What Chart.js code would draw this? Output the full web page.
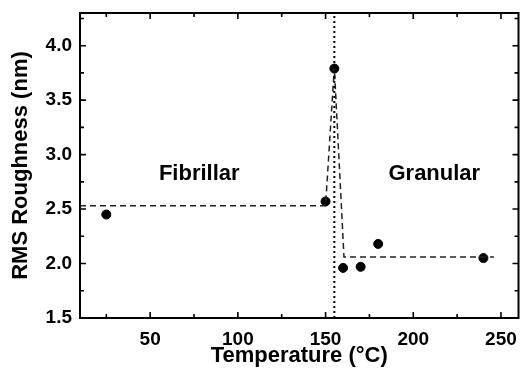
<!DOCTYPE html>
<html>
<head>
    <title>RMS Roughness vs Temperature</title>
    <style>
        body { margin: 0; background: #fff; }
        .chart-container { width: 524px; height: 373px; }
    </style>
    <script src="https://cdn.jsdelivr.net/npm/chart.js@4.4.1/dist/chart.umd.min.js"></script>
</head>
<body>
    <div class="chart-container">
        <canvas id="roughChart"></canvas>
    </div>
    <script>
        // measured points
        const tempC = [25, 150, 155, 160, 170, 180, 240];
        const roughness = [2.45, 2.57, 3.79, 1.96, 1.97, 2.18, 2.05];

        // dashed guide line through the two regimes
        const guideT = [10, 150, 155, 160.5, 246];
        const guideR = [2.53, 2.53, 3.8, 2.06, 2.06];

        // dotted transition line
        const transitionT = 155;

        // axis ranges and ticks
        const xRange = [10, 260];
        const yRange = [1.5, 4.3];
        const xMajorTicks = [50, 100, 150, 200, 250];
        const xMinorTicks = [25, 75, 125, 175, 225];
        const yMajorTicks = [1.5, 2.0, 2.5, 3.0, 3.5, 4.0];
        const yMinorTicks = [1.75, 2.25, 2.75, 3.25, 3.75, 4.25];

        // region labels
        const regionNames = ['Fibrillar', 'Granular'];
        const regionT = [78, 212];
        const regionR = [2.82, 2.82];

        const fontFamily = '"Liberation Sans", Arial, sans-serif';

        const toXY = (xs, ys) => xs.map((x, i) => ({ x: x, y: ys[i] }));

        // no automatic label padding, layout.padding decides the plot box
        const noAutoPad = s => {
            s.paddingLeft = 0; s.paddingRight = 0;
            s.paddingTop = 0; s.paddingBottom = 0;
        };

        // frame, inward ticks on all sides, region labels
        const framePlugin = {
            id: 'frame',
            afterDraw(chart) {
                const ctx = chart.ctx;
                const a = chart.chartArea;
                const xs = chart.scales.x;
                const ys = chart.scales.y;
                ctx.save();
                ctx.strokeStyle = '#000';
                ctx.lineWidth = 1.6;
                const tick = (vals, len, horiz) => {
                    vals.forEach(v => {
                        ctx.beginPath();
                        if (horiz) {
                            const px = xs.getPixelForValue(v);
                            ctx.moveTo(px, a.bottom); ctx.lineTo(px, a.bottom - len);
                            ctx.moveTo(px, a.top); ctx.lineTo(px, a.top + len);
                        } else {
                            const py = ys.getPixelForValue(v);
                            ctx.moveTo(a.left, py); ctx.lineTo(a.left + len, py);
                            ctx.moveTo(a.right, py); ctx.lineTo(a.right - len, py);
                        }
                        ctx.stroke();
                    });
                };
                tick(xMajorTicks, 6, true);
                tick(xMinorTicks, 4, true);
                tick(yMajorTicks, 6, false);
                tick(yMinorTicks, 4, false);

                ctx.lineWidth = 2;
                ctx.strokeRect(a.left, a.top, a.right - a.left, a.bottom - a.top);

                ctx.fillStyle = '#000';
                ctx.font = 'bold 22px ' + fontFamily;
                ctx.textAlign = 'center';
                ctx.textBaseline = 'middle';
                regionNames.forEach((name, i) => {
                    ctx.fillText(name, xs.getPixelForValue(regionT[i]), ys.getPixelForValue(regionR[i]));
                });
                ctx.restore();
            }
        };

        const ctx = document.getElementById('roughChart').getContext('2d');
        new Chart(ctx, {
            type: 'scatter',
            data: {
                datasets: [
                    {
                        label: 'Transition',
                        data: toXY([transitionT, transitionT], yRange),
                        showLine: true,
                        borderColor: '#000',
                        borderWidth: 2,
                        borderDash: [2, 3],
                        pointRadius: 0
                    },
                    {
                        label: 'Guide',
                        data: toXY(guideT, guideR),
                        showLine: true,
                        borderColor: '#222',
                        borderWidth: 1.5,
                        borderDash: [6, 4],
                        pointRadius: 0
                    },
                    {
                        label: 'RMS Roughness',
                        data: toXY(tempC, roughness),
                        backgroundColor: '#000',
                        borderColor: '#000',
                        pointRadius: 4.5
                    }
                ]
            },
            options: {
                responsive: true,
                maintainAspectRatio: false,
                animation: false,
                layout: { padding: { left: 0, right: 4, top: 13, bottom: 0 } },
                plugins: {
                    legend: { display: false },
                    tooltip: { enabled: false }
                },
                scales: {
                    x: {
                        type: 'linear',
                        min: xRange[0],
                        max: xRange[1],
                        afterBuildTicks: s => { s.ticks = xMajorTicks.map(v => ({ value: v })); },
                        afterFit: s => { s.height = 55; noAutoPad(s); },
                        grid: { display: false, drawTicks: false },
                        border: { display: false },
                        ticks: {
                            padding: 10,
                            color: '#000',
                            font: { family: fontFamily, size: 19, weight: 'bold' }
                        },
                        title: {
                            display: true,
                            text: 'Temperature (°C)',
                            color: '#000',
                            padding: { top: 0, bottom: 4 },
                            font: { family: fontFamily, size: 22, weight: 'bold' }
                        }
                    },
                    y: {
                        type: 'linear',
                        min: yRange[0],
                        max: yRange[1],
                        afterBuildTicks: s => { s.ticks = yMajorTicks.map(v => ({ value: v })); },
                        afterFit: s => { s.width = 80; noAutoPad(s); },
                        grid: { display: false, drawTicks: false },
                        border: { display: false },
                        ticks: {
                            padding: 8,
                            color: '#000',
                            font: { family: fontFamily, size: 19, weight: 'bold' },
                            callback: v => v.toFixed(1)
                        },
                        title: {
                            display: true,
                            text: 'RMS Roughness (nm)',
                            color: '#000',
                            padding: { top: 8, bottom: 0 },
                            font: { family: fontFamily, size: 22, weight: 'bold' }
                        }
                    }
                }
            },
            plugins: [framePlugin]
        });
    </script>
</body>
</html>
